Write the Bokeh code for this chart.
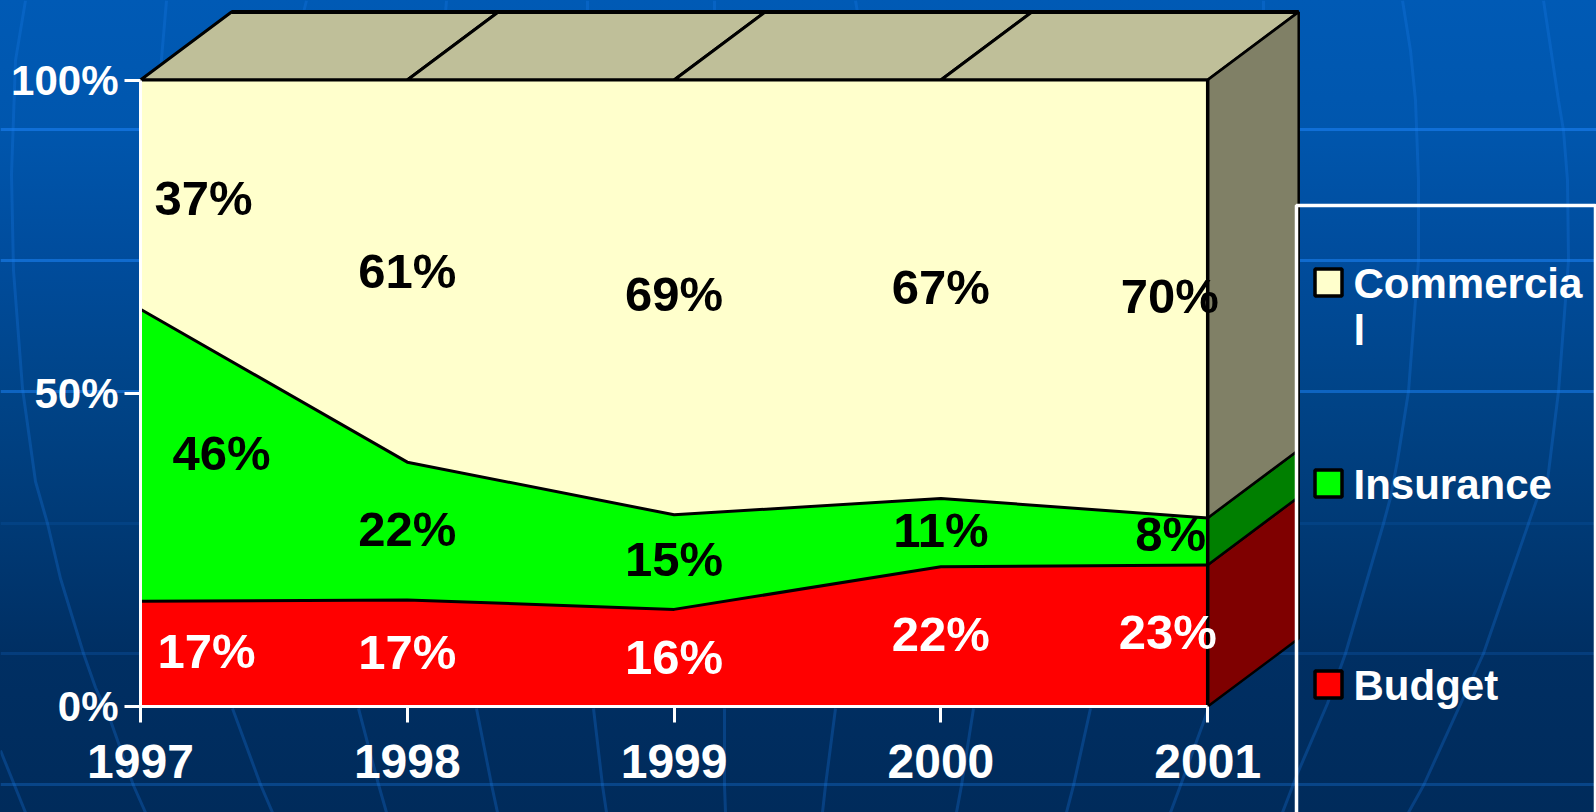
from bokeh.core.properties import value
from bokeh.embed import file_html
from bokeh.models import FixedTicker, GlobalInlineStyleSheet, Range1d
from bokeh.plotting import figure
from bokeh.resources import INLINE

# ---- data ----
years = [1997, 1998, 1999, 2000, 2001]
budget = [16.8, 17.0, 15.5, 22.3, 22.6]
insurance = [46.6, 22.0, 15.1, 10.9, 7.5]
budget_labels = ["17%", "17%", "16%", "22%", "23%"]
insurance_labels = ["46%", "22%", "15%", "11%", "8%"]
commercial_labels = ["37%", "61%", "69%", "67%", "70%"]
y_ticks = [0, 50, 100]
y_tick_labels = ["0%", "50%", "100%"]
legend_names = ["Commercia\nl", "Insurance", "Budget"]

# ---- palette ----
C_COMM, C_INS, C_BUD = "#FFFFCC", "#00FF00", "#FF0000"
S_COMM, S_INS, S_BUD = "#808066", "#007F00", "#7F0000"
C_TOP = "#BFBF99"
FONT = value("Liberation Sans")

# ---- layout: page pixels of the frame and the axes ----
W, H = 1596, 812
LEFT, TOP = 0, 0
X0_PX, X_STEP = 140.0, 266.8
Y0_PX, Y_STEP = 706.0, 6.265
DEPTH_X, DEPTH_Y = 91 / X_STEP, 68 / Y_STEP


def px_x(px):
    return years[0] + (px - X0_PX) / X_STEP


def px_y(py):
    return (Y0_PX - py) / Y_STEP


css = GlobalInlineStyleSheet(css="""
html { height: 100%; background: linear-gradient(180deg,
  #005ab5 0px, #0056ad 130px, #004c9c 260px, #004488 391px,
  #003a76 523px, #002f63 653px, #002b5b 812px) no-repeat; }
body { background: transparent; }
""")

p = figure(width=W, height=H, output_backend="svg", toolbar_location=None,
           x_range=Range1d(px_x(LEFT), px_x(LEFT + W)),
           y_range=Range1d(px_y(TOP + H), px_y(TOP)),
           min_border=0, background_fill_alpha=0, border_fill_alpha=0,
           outline_line_color=None)
p.stylesheets = [css]
p.grid.visible = False

# ---- background decoration (page pixels) ----
h_lines = [(129, 0.62), (260, 0.6), (391, 0.55), (523, 0.12), (653, 0.18), (784, 0.3)]
for py, a in h_lines:
    p.line([px_x(0), px_x(1600)], [px_y(py)] * 2, line_color="#1a80f0", line_alpha=a, line_width=3)

curves = [
    [(25, 0), (15, 60), (11, 174), (13, 270), (22, 388), (35, 481), (47, 523), (60, 578), (83, 653),
     (95, 687), (110, 720), (133, 785), (145, 812)],
    [(0, 750), (25, 812)],
    [(232, 708), (260, 784), (272, 812)],
    [(358, 708), (378, 784), (386, 812)],
    [(476, 708), (491, 784), (497, 812)],
    [(593, 708), (602, 785), (606, 812)],
    [(724, 708), (724, 785), (725, 812)],
    [(835, 708), (825, 785), (822, 812)],
    [(973, 708), (961, 785), (956, 812)],
    [(1090, 708), (1073, 785), (1066, 812)],
    [(1208, 708), (1180, 785), (1170, 812)],
    [(166, 0), (160, 70)], [(306, 0), (303, 12)], [(446, 0), (445, 12)], [(587, 0), (587, 12)],
    [(714, 0), (714, 12)], [(855, 0), (857, 12)], [(1263, 0), (1263, 12)],
    [(1402, 0), (1410, 50), (1415, 100), (1418, 180), (1418, 260), (1408, 391), (1397, 460), (1390, 497),
     (1383, 523), (1345, 653), (1327, 703), (1297, 773), (1282, 812)],
    [(1543, 0), (1558, 100), (1563, 130), (1567, 180), (1568, 260), (1558, 391), (1547, 480), (1537, 497),
     (1528, 523), (1483, 653), (1423, 785), (1408, 812)],
]
p.multi_line([[px_x(a) for a, _ in c] for c in curves], [[px_y(b) for _, b in c] for c in curves],
             line_color="#1a80f0", line_alpha=0.26, line_width=3)

# ---- stack ----
ins_top = [b + i for b, i in zip(budget, insurance)]
full = [100.0] * len(years)
zero = [0.0] * len(years)

# top face
for a, b in zip(years[:-1], years[1:]):
    p.patch([a, b, b + DEPTH_X, a + DEPTH_X], [100, 100, 100 + DEPTH_Y, 100 + DEPTH_Y],
            fill_color=C_TOP, line_color="black", line_width=3)
p.line([years[0] + DEPTH_X, years[-1] + DEPTH_X], [100 + DEPTH_Y] * 2, line_color="black", line_width=4)

# side wall
xr = years[-1]
for lo, hi, col in [(0, budget[-1], S_BUD), (budget[-1], ins_top[-1], S_INS), (ins_top[-1], 100, S_COMM)]:
    p.patch([xr, xr + DEPTH_X, xr + DEPTH_X, xr], [lo, lo + DEPTH_Y, hi + DEPTH_Y, hi],
            fill_color=col, line_color="black", line_width=2.5)

# front areas
p.varea(years, zero, budget, fill_color=C_BUD)
p.varea(years, budget, ins_top, fill_color=C_INS)
p.varea(years, ins_top, full, fill_color=C_COMM)
p.line(years, budget, line_color="black", line_width=3)
p.line(years, ins_top, line_color="black", line_width=3)
p.line(years, full, line_color="black", line_width=3)
p.line([xr, xr], [0, 100], line_color="black", line_width=3.5)

# value labels, centred in their bands; the end columns are nudged inward
nudge_comm = [63, 0, 0, 0, -38]
nudge_ins = [81, 0, 0, 0, -37]
nudge_bud = [66, 0, 0, 0, -40]
lift_comm = [3, 0, -3, -2, -3]
lift_ins = [-2, -2, -3, -3, -7]
lift_bud = [-3, -1, -1, -3, -4]
comm_mid = [(t + 100) / 2 for t in ins_top]
ins_mid = [(b + t) / 2 for b, t in zip(budget, ins_top)]
bud_mid = [b / 2 for b in budget]
for mids, labels, nudge, lift, col in [(comm_mid, commercial_labels, nudge_comm, lift_comm, "black"),
                                       (ins_mid, insurance_labels, nudge_ins, lift_ins, "black"),
                                       (bud_mid, budget_labels, nudge_bud, lift_bud, "white")]:
    p.text(years, mids, text=labels, x_offset=nudge, y_offset=lift, text_color=col, text_font=FONT,
           text_font_style="bold", text_font_size="49px", text_align="center", text_baseline="middle")

# ---- axes ----
p.xaxis.fixed_location = 0
p.yaxis.fixed_location = years[0]
p.xaxis.bounds = (years[0], years[-1])
p.yaxis.bounds = (0, 100)
p.xaxis.ticker = FixedTicker(ticks=years)
p.xaxis.major_label_overrides = {y: str(y) for y in years}
p.yaxis.ticker = FixedTicker(ticks=y_ticks)
p.yaxis.major_label_overrides = dict(zip(y_ticks, y_tick_labels))
p.xaxis.major_label_text_font_size = "48px"
p.yaxis.major_label_text_font_size = "42px"
p.xaxis.major_label_standoff = 22
p.yaxis.major_label_standoff = 6
for ax in (p.xaxis, p.yaxis):
    ax.axis_line_color = "white"
    ax.axis_line_width = 3
    ax.major_tick_line_color = "white"
    ax.major_tick_line_width = 3
    ax.major_tick_out = 16
    ax.major_tick_in = 0
    ax.minor_tick_line_color = None
    ax.major_label_text_color = "white"
    ax.major_label_text_font = "Liberation Sans"
    ax.major_label_text_font_style = "bold"

# ---- legend drawn by hand, as a box that runs off the page ----
p.line([px_x(1296), px_x(1296), px_x(1595), px_x(1595)], [px_y(830), px_y(205), px_y(205), px_y(830)],
       line_color="white", line_width=3.5)
swatch_y = [282, 483, 684]
swatch_col = [C_COMM, C_INS, C_BUD]
p.rect([px_x(1328)] * 3, [px_y(v) for v in swatch_y], width=27, height=27,
       width_units="screen", height_units="screen", fill_color=swatch_col,
       line_color="black", line_width=3.5)
text_y = [297, 498, 699]
p.text([px_x(1353)] * 3, [px_y(v) for v in text_y], text=[n.split("\n")[0] for n in legend_names],
       text_color="white", text_font=FONT, text_font_style="bold", text_font_size="42px",
       text_align="left", text_baseline="alphabetic", y_offset=-14)
p.text([px_x(1353)], [px_y(344)], text=[legend_names[0].split("\n")[1]],
       text_color="white", text_font=FONT, text_font_style="bold", text_font_size="42px",
       text_align="left", text_baseline="alphabetic", y_offset=-14)

open("out.html", "w").write(file_html(p, INLINE))
